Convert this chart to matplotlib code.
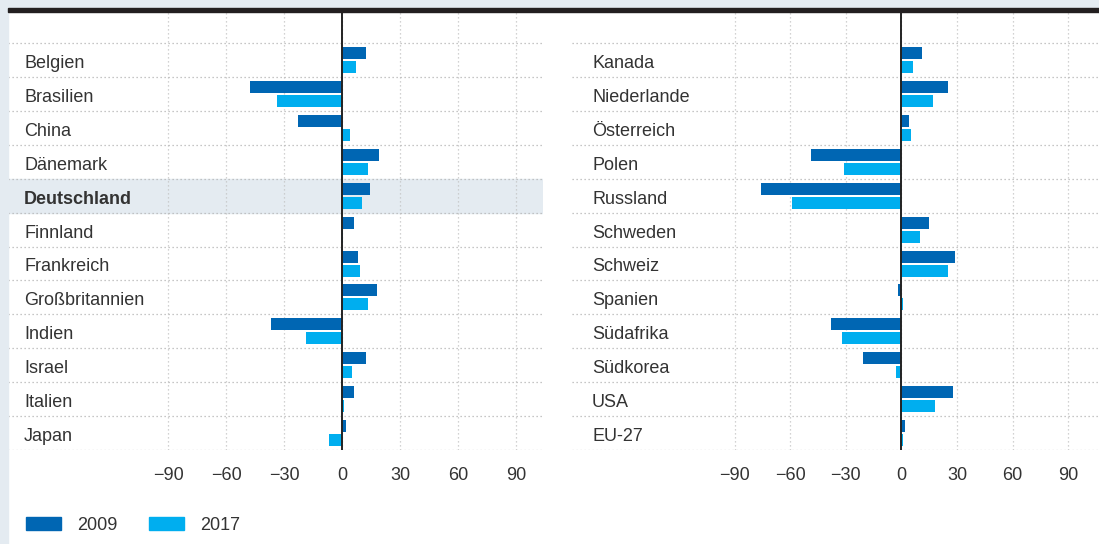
import numpy as np
import matplotlib
matplotlib.use("Agg")
import matplotlib.pyplot as plt
from matplotlib.patches import Rectangle, Patch

plt.rcParams['font.family'] = ['Liberation Sans', 'DejaVu Sans']

# data
left_countries = ['Belgien', 'Brasilien', 'China', 'Dänemark', 'Deutschland', 'Finnland',
                  'Frankreich', 'Großbritannien', 'Indien', 'Israel', 'Italien', 'Japan']
left_2009 = [12.4, -47.7, -22.9, 19.0, 14.4, 6.1, 8.1, 18.1, -36.8, 12.4, 6.1, 2.0]
left_2017 = [7.2, -33.6, 4.1, 13.3, 10.3, 0.7, 9.2, 13.3, -18.7, 5.2, 0.9, -6.8]

right_countries = ['Kanada', 'Niederlande', 'Österreich', 'Polen', 'Russland', 'Schweden',
                   'Schweiz', 'Spanien', 'Südafrika', 'Südkorea', 'USA', 'EU-27']
right_2009 = [11.1, 25.2, 4.1, -48.8, -75.7, 14.8, 28.9, -1.9, -38.0, -20.8, 27.8, 2.0]
right_2017 = [6.3, 17.1, 5.2, -31.0, -59.0, 10.0, 25.2, 0.7, -32.1, -3.0, 18.2, 0.9]

ticks = [-90, -60, -30, 0, 30, 60, 90]
years = ['2009', '2017']
c2009 = '#0066b3'
c2017 = '#00aeef'
bg = '#e4ebf1'
txt = '#333333'
fs = 13

W, H = 1099, 544
fig = plt.figure(figsize=(W / 100, H / 100), dpi=100)
fig.patch.set_facecolor('white')

# background bands + top rule
fig.patches.append(Rectangle((0, 1 - 8.5 / H), 1, 8.5 / H, transform=fig.transFigure, color=bg, zorder=0))
fig.patches.append(Rectangle((0, 0), 8 / W, 1, transform=fig.transFigure, color=bg, zorder=0))
fig.patches.append(Rectangle((8 / W, 1 - 11.8 / H), 1, 4 / H, transform=fig.transFigure, color='#231f20', zorder=1))


def panel(x0, x1, xlim, countries, v09, v17, label_x, highlight=None):
    ax = fig.add_axes([x0 / W, (H - 450) / H, (x1 - x0) / W, 438 / H])
    ax.set_facecolor('none')
    y = np.arange(len(countries))
    ax.barh(y - 0.206, v09, height=0.355, color=c2009, zorder=3)
    ax.barh(y + 0.206, v17, height=0.355, color=c2017, zorder=3)
    ax.set_xlim(*xlim)
    ax.set_ylim(len(countries) - 0.5, -1.42)
    for t in ticks:
        ax.axvline(t, color='#c4c4c4', lw=0.9, ls=(0, (1, 2.2)), zorder=1)
    for b in np.arange(-0.5, len(countries), 1):
        ax.axhline(b, color='#b4b4b4', lw=0.9, ls=(0, (1, 2.2)), zorder=1)
    ax.axvline(0, color='#222222', lw=1.4, zorder=4)
    if highlight is not None:
        ax.axhspan(highlight - 0.5, highlight + 0.5, color=bg, zorder=0)
    for i, name in enumerate(countries):
        ax.text(label_x, i + 0.1, name, transform=ax.get_yaxis_transform(), va='center', ha='left',
                fontsize=fs, color=txt, fontweight='bold' if i == highlight else 'normal')
    ax.set_yticks([])
    ax.set_xticks(ticks)
    ax.set_xticklabels([str(t).replace('-', '\u2212') for t in ticks], fontsize=fs, color=txt)
    ax.tick_params(axis='x', length=0, pad=12)
    for s in ax.spines.values():
        s.set_visible(False)
    return ax


panel(8, 543, (-172.8, 104.0), left_countries, left_2009, left_2017, 0.030, highlight=4)
panel(572, 1099, (-177.8, 106.6), right_countries, right_2009, right_2017, 0.038)

handles = [Patch(color=c2009), Patch(color=c2017)]
fig.legend(handles, years, loc='center left', bbox_to_anchor=(17 / W, (H - 525) / H), ncol=2,
           frameon=False, borderpad=0, fontsize=fs, handlelength=1.95, handleheight=0.7,
           handletextpad=0.9, columnspacing=1.7, labelcolor=txt)

fig.savefig('out.png', dpi=100, facecolor=fig.get_facecolor())
